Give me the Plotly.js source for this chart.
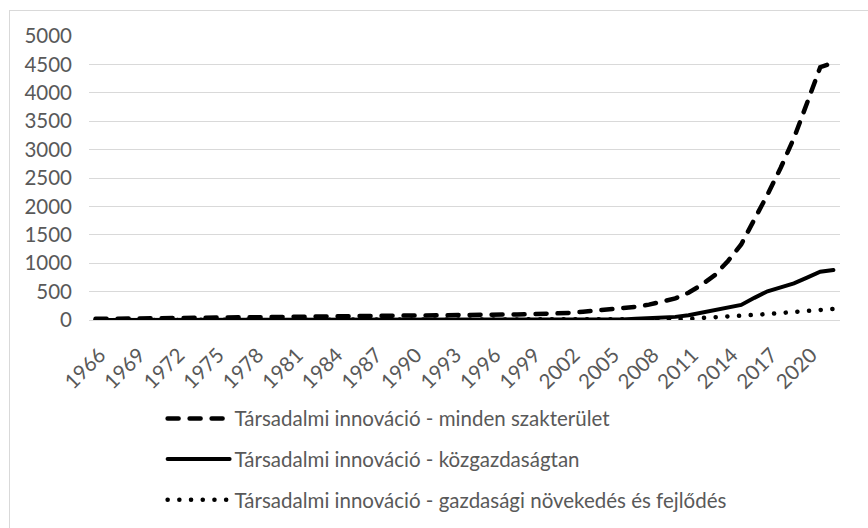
<!DOCTYPE html>
<html>
<head>
<meta charset="utf-8">
<script src="https://cdn.plot.ly/plotly-3.0.1.min.js"></script>
<style>
  html, body { margin: 0; padding: 0; overflow: hidden; background: #ffffff; }
  #frame { position: absolute; left: 9px; top: 10px; width: 1000px; height: 700px; border: 1px solid #d9d9d9; box-sizing: border-box; }
  #chart { position: absolute; left: 0; top: 0; width: 868px; height: 528px; }
  .js-line { stroke-linecap: round; }
  .legendlines path { stroke-linecap: round; }
</style>
</head>
<body>
<div id="frame"></div>
<div id="chart"></div>
<script>
const years = [];
for (let y = 1966; y <= 2022; y++) years.push(y);

const tickYears = [1966, 1969, 1972, 1975, 1978, 1981, 1984, 1987, 1990, 1993, 1996, 1999, 2002, 2005, 2008, 2011, 2014, 2017, 2020];

const seriesNames = [
  "Társadalmi innováció - minden szakterület",
  "Társadalmi innováció - közgazdaságtan",
  "Társadalmi innováció - gazdasági növekedés és fejlődés"
];

// 1966 ... 2022
const allFields = [
  20, 22, 24, 25, 27, 28, 30, 31, 33, 35,
  37, 39, 41, 44, 47, 50, 53, 56, 59, 62,
  65, 68, 72, 75, 78, 80, 83, 85, 88, 90,
  92, 95, 98, 102, 106, 112, 125, 145, 163, 182,
  205, 232, 270, 320, 380, 480, 620, 790, 1040, 1330,
  1750, 2210, 2680, 3200, 3820, 4450, 4530
];

const economics = [
  0, 0, 0, 0, 0, 0, 0, 0, 0, 0,
  0, 0, 0, 0, 1, 1, 1, 1, 1, 1,
  1, 1, 2, 2, 2, 2, 2, 3, 3, 3,
  3, 4, 4, 5, 5, 6, 6, 7, 8, 9,
  10, 20, 28, 38, 55, 85, 130, 185, 225, 265,
  390, 505, 575, 645, 745, 850, 880
];

const growthDev = [
  0, 0, 0, 0, 0, 0, 0, 0, 0, 0,
  0, 0, 0, 0, 0, 0, 0, 0, 0, 0,
  0, 0, 0, 0, 0, 0, 0, 0, 0, 0,
  0, 1, 1, 1, 1, 1, 1, 2, 2, 2,
  3, 4, 6, 10, 15, 22, 32, 45, 60, 72,
  90, 105, 120, 140, 165, 185, 195
];

const traces = [
  { x: years, y: allFields, name: seriesNames[0], type: 'scatter', mode: 'lines',
    line: { color: '#000000', width: 4.5, dash: '11px,11px' }, legendgroup: 'a' },
  { x: years, y: economics, name: seriesNames[1], type: 'scatter', mode: 'lines',
    line: { color: '#000000', width: 4 }, legendgroup: 'b' },
  { x: years, y: growthDev, name: seriesNames[2], type: 'scatter', mode: 'lines',
    line: { color: '#000000', width: 4.5, dash: '0.1px,11.6px' }, legendgroup: 'c' }
];

const font = { family: 'Lato, "Open Sans", sans-serif', size: 20.5, color: '#595959' };

const layout = {
  width: 868, height: 528,
  margin: { l: 89, r: 28, t: 36, b: 208, autoexpand: false },
  paper_bgcolor: 'rgba(0,0,0,0)',
  plot_bgcolor: 'rgba(0,0,0,0)',
  font: font,
  showlegend: true,
  legend: {
    x: 0.098, xanchor: 'left',
    xref: 'paper',
    y: 0.245, yanchor: 'top',
    yref: 'container',
    traceorder: 'grouped',
    tracegroupgap: 11,
    font: font,
    bgcolor: 'rgba(0,0,0,0)',
    itemwidth: 62
  },
  xaxis: {
    range: [1965.5, 2022.5],
    tickmode: 'array',
    tickvals: tickYears,
    ticktext: tickYears.map(String),
    tickangle: -45,
    showgrid: false,
    zeroline: false,
    showline: false,
    ticks: 'outside',
    ticklen: 14,
    tickcolor: 'rgba(0,0,0,0)',
    ticklabelshift: 4,
    tickfont: font,
    automargin: false,
    fixedrange: true
  },
  yaxis: {
    range: [0, 5000],
    tickmode: 'linear',
    tick0: 0,
    dtick: 500,
    showgrid: true,
    gridcolor: '#d9d9d9',
    gridwidth: 1,
    zeroline: true,
    zerolinecolor: '#d9d9d9',
    zerolinewidth: 1,
    showline: false,
    ticks: '',
    ticklabelstandoff: 16,
    tickfont: font,
    automargin: false,
    fixedrange: true
  }
};

Plotly.newPlot('chart', traces, layout, { displayModeBar: false, staticPlot: true });
</script>
</body>
</html>
